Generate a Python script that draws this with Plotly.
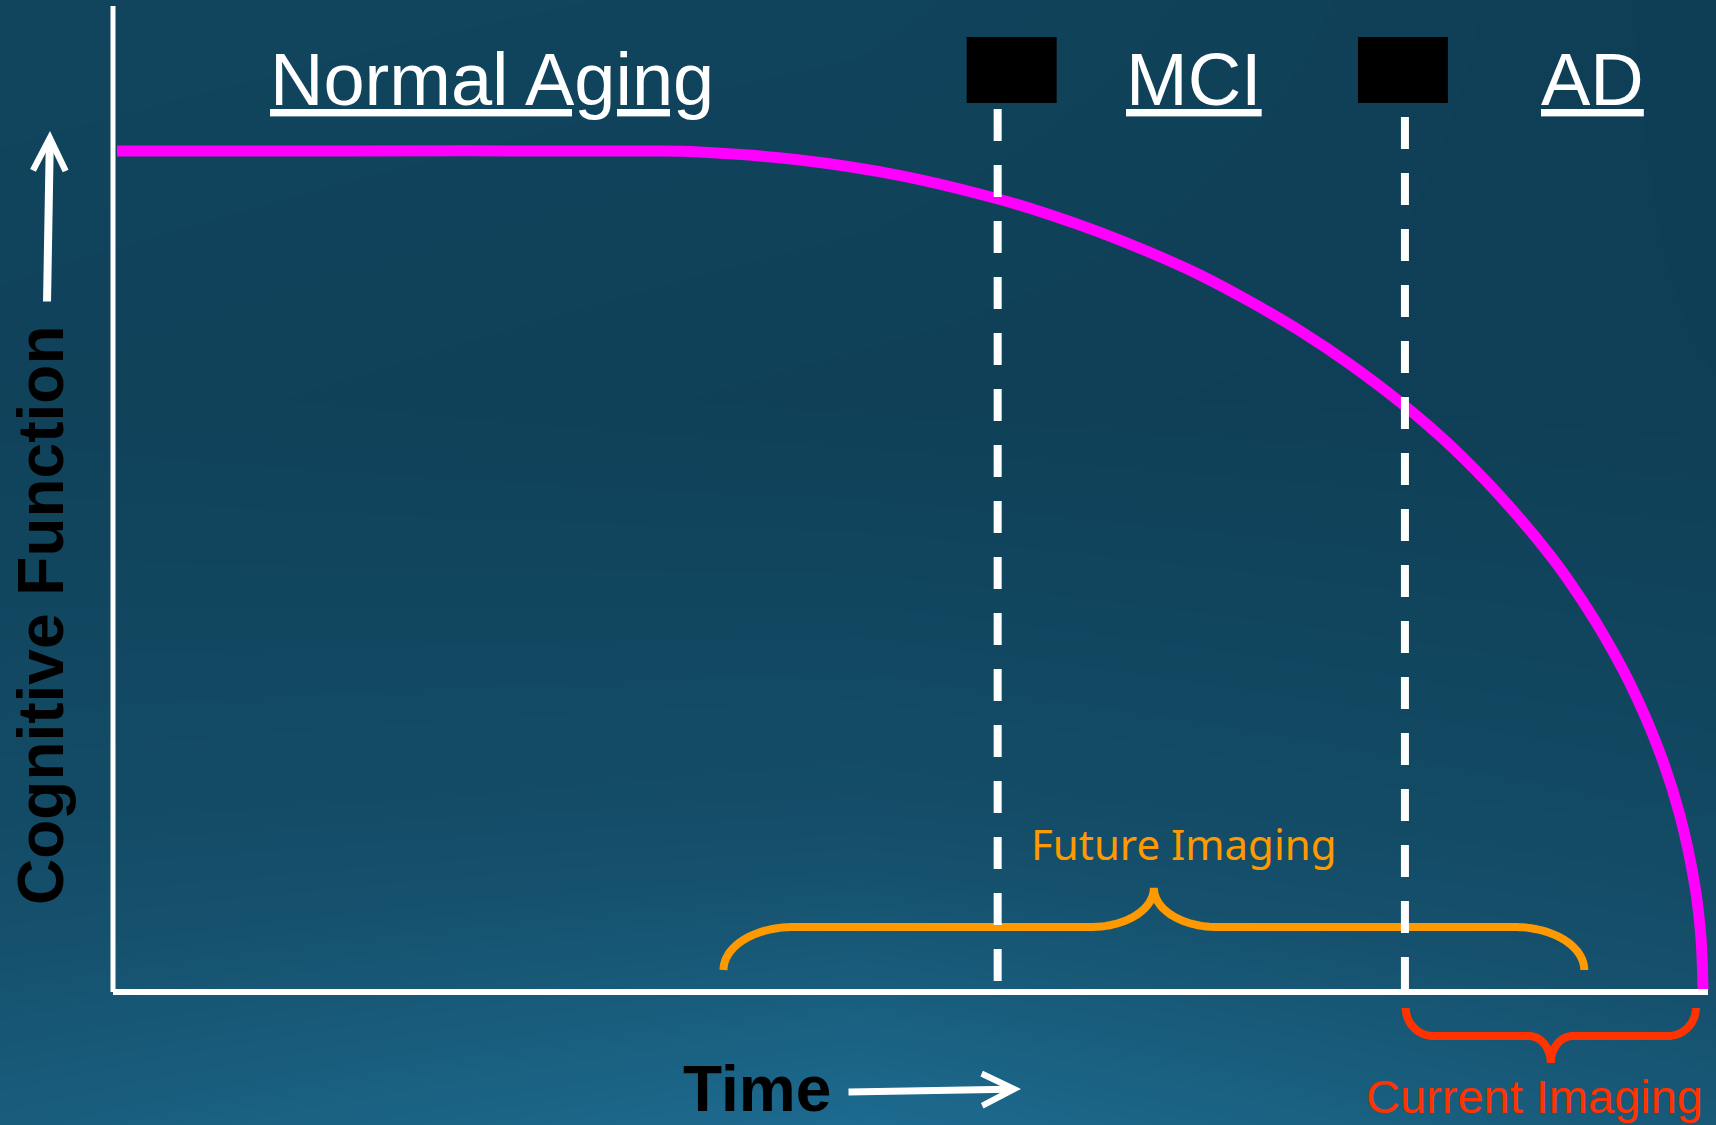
import numpy as np
import plotly.graph_objects as go

# ---------------- data ----------------
# cognitive-function curve (time units 0..100, cognition units 0..100)
time_pts = [0.25, 15.0, 33.4, 36.8, 43.1, 49.4, 55.65, 58.78, 61.92, 65.06, 68.19,
            71.33, 74.47, 77.6, 80.74, 83.88, 87.01, 90.15, 91.72, 93.29, 95.17,
            97.05, 98.31, 99.25, 99.62, 99.75]
cognition = [100, 100, 100, 99.87, 98.93, 97.07, 94.23, 92.43, 90.33, 87.93, 85.26,
             82.1, 78.61, 74.65, 70.15, 65.01, 58.98, 51.94, 47.82, 43.16, 36.66,
             28.42, 20.93, 12.49, 6.42, 0.24]

stage_labels = ["Normal Aging", "MCI", "AD"]
stage_boundaries = [55.5, 81.05]          # MCI onset, AD onset
future_imaging_span = [38.3, 92.3]
current_imaging_span = [81.1, 99.3]
axis_titles = ["Time", "Cognitive Function"]
bracket_labels = ["Future Imaging", "Current Imaging"]

# ---------------- geometry helpers ----------------
W, H = 1716, 1125
PX0, PY0 = 113, 992       # pixel of origin
KX, KY = 15.94, 8.41      # pixels per data unit


def tx(px):
    return (px - PX0) / KX


def cy(py):
    return (PY0 - py) / KY


def px_of(t):
    return PX0 + t * KX


def brace(t0, t1, base, mid, tip, rx, rx2, n=40):
    x0, x1 = px_of(t0), px_of(t1)
    xm = (x0 + x1) / 2
    ry1 = mid - base
    ry2 = tip - mid
    a = np.linspace(0, np.pi / 2, n)
    xs, ys = [], []
    # left curl: end -> horizontal
    xs += list(x0 + rx - rx * np.cos(a)); ys += list(base + ry1 * np.sin(a))
    # middle, left half: horizontal -> tip
    xs += list(xm - rx2 + rx2 * np.sin(a)); ys += list(tip - ry2 * np.cos(a))
    # middle, right half: tip -> horizontal
    xs += list(xm + rx2 - rx2 * np.cos(a)); ys += list(tip - ry2 * np.sin(a))
    # right curl: horizontal -> end
    xs += list(x1 - rx + rx * np.sin(a)); ys += list(base + ry1 * np.cos(a))
    return [tx(v) for v in xs], [cy(v) for v in ys]


fig = go.Figure()

# background gradient
bg_x = [tx(-100), tx(858), tx(1816)]
bg_y = [cy(-60), cy(400), cy(800), cy(1185)]
bg_z = [[0.26, 0.22, 0.05],
        [0.18, 0.12, 0.08],
        [0.36, 0.42, 0.30],
        [0.72, 0.98, 0.66]]
fig.add_trace(go.Heatmap(x=bg_x, y=bg_y, z=bg_z, zsmooth="best", showscale=False,
                         colorscale=[[0, "#0D3B51"], [0.5, "#15506C"], [1, "#1F7299"]],
                         zmin=0, zmax=1, hoverinfo="skip"))

# braces
fx, fy = brace(future_imaging_span[0], future_imaging_span[1], 970, 927, 888, 70, 63)
fig.add_trace(go.Scatter(x=fx, y=fy, mode="lines",
                         line=dict(color="#FF9900", width=8, simplify=False),
                         hoverinfo="skip"))
cx_, cy_ = brace(current_imaging_span[0], current_imaging_span[1], 1008, 1036, 1063, 28, 22)
fig.add_trace(go.Scatter(x=cx_, y=cy_, mode="lines",
                         line=dict(color="#FF3300", width=8, simplify=False),
                         hoverinfo="skip"))

# cognitive decline curve
fig.add_trace(go.Scatter(x=time_pts, y=cognition, mode="lines",
                         line=dict(color="#FF00FF", width=11, shape="spline", smoothing=1.0,
                                   simplify=False),
                         hoverinfo="skip"))

shapes = []
# axes
shapes.append(dict(type="line", xref="x", yref="y", x0=0, x1=0, y0=0, y1=cy(6),
                   line=dict(color="white", width=5)))
shapes.append(dict(type="line", xref="x", yref="y", x0=0, x1=tx(1708), y0=0, y1=0,
                   line=dict(color="white", width=6)))
# stage boundaries (dashed)
shapes.append(dict(type="line", xref="x", yref="y", x0=stage_boundaries[0], x1=stage_boundaries[0],
                   y0=cy(109), y1=cy(981), line=dict(color="white", width=8, dash="32px,24px")))
shapes.append(dict(type="line", xref="x", yref="y", x0=stage_boundaries[1], x1=stage_boundaries[1],
                   y0=cy(117), y1=cy(992), line=dict(color="white", width=8, dash="32px,24px")))
# black boxes above the stage boundaries
box_offsets = [(-31, 59), (-47, 43)]
for b, (l, r) in zip(stage_boundaries, box_offsets):
    c = px_of(b)
    shapes.append(dict(type="rect", xref="x", yref="y", x0=tx(c + l), x1=tx(c + r),
                       y0=cy(37), y1=cy(103), fillcolor="black", line=dict(width=0)))
fig.update_layout(shapes=shapes)

ann = []
label_font = dict(family="Liberation Sans, Arial", size=74, color="white")
for lab, cxp in zip(stage_labels, [492, 1194, 1592]):
    ann.append(dict(x=tx(cxp), y=cy(79), xref="x", yref="y", text="<u>" + lab + "</u>",
                    showarrow=False, font=label_font, xanchor="center", yanchor="middle"))
# axis titles
ann.append(dict(x=tx(757), y=cy(1089), xref="x", yref="y", text="<b>" + axis_titles[0] + "</b>",
                showarrow=False, font=dict(family="Liberation Sans, Arial", size=64, color="black"),
                xanchor="center", yanchor="middle"))
ann.append(dict(x=tx(41), y=cy(615), xref="x", yref="y", text="<b>" + axis_titles[1] + "</b>",
                showarrow=False, textangle=-90,
                font=dict(family="Liberation Sans, Arial", size=64, color="black"),
                xanchor="center", yanchor="middle"))
# bracket labels
ann.append(dict(x=tx(1029), y=cy(843), xref="x", yref="y", text=bracket_labels[0],
                showarrow=False, font=dict(family="Noto Sans", size=42, color="#FF9900"),
                xanchor="left", yanchor="middle"))
ann.append(dict(x=tx(1705), y=cy(1096), xref="x", yref="y", text=bracket_labels[1],
                showarrow=False, font=dict(family="Liberation Sans, Arial", size=47, color="#FF3300"),
                xanchor="right", yanchor="middle"))
# arrows
ann.append(dict(x=tx(50), y=cy(131), ax=tx(47), ay=cy(303), xref="x", yref="y",
                axref="x", ayref="y", text="", showarrow=True, arrowhead=5,
                arrowsize=0.8, arrowwidth=8, arrowcolor="white"))
ann.append(dict(x=tx(1021), y=cy(1089), ax=tx(847), ay=cy(1092), xref="x", yref="y",
                axref="x", ayref="y", text="", showarrow=True, arrowhead=5,
                arrowsize=0.9, arrowwidth=7, arrowcolor="white"))
fig.update_layout(annotations=ann)

fig.update_layout(
    width=W, height=H, margin=dict(l=0, r=0, t=0, b=0),
    paper_bgcolor="#114562", plot_bgcolor="#114562", showlegend=False,
    xaxis=dict(range=[tx(0), tx(W)], visible=False, fixedrange=True),
    yaxis=dict(range=[cy(H), cy(0)], visible=False, fixedrange=True),
)

fig.write_html("out.html", config={"displayModeBar": False},
               post_script="document.body.style.margin='0';"
                           "document.body.style.overflow='hidden';"
                           "document.body.style.background='#114562';")
